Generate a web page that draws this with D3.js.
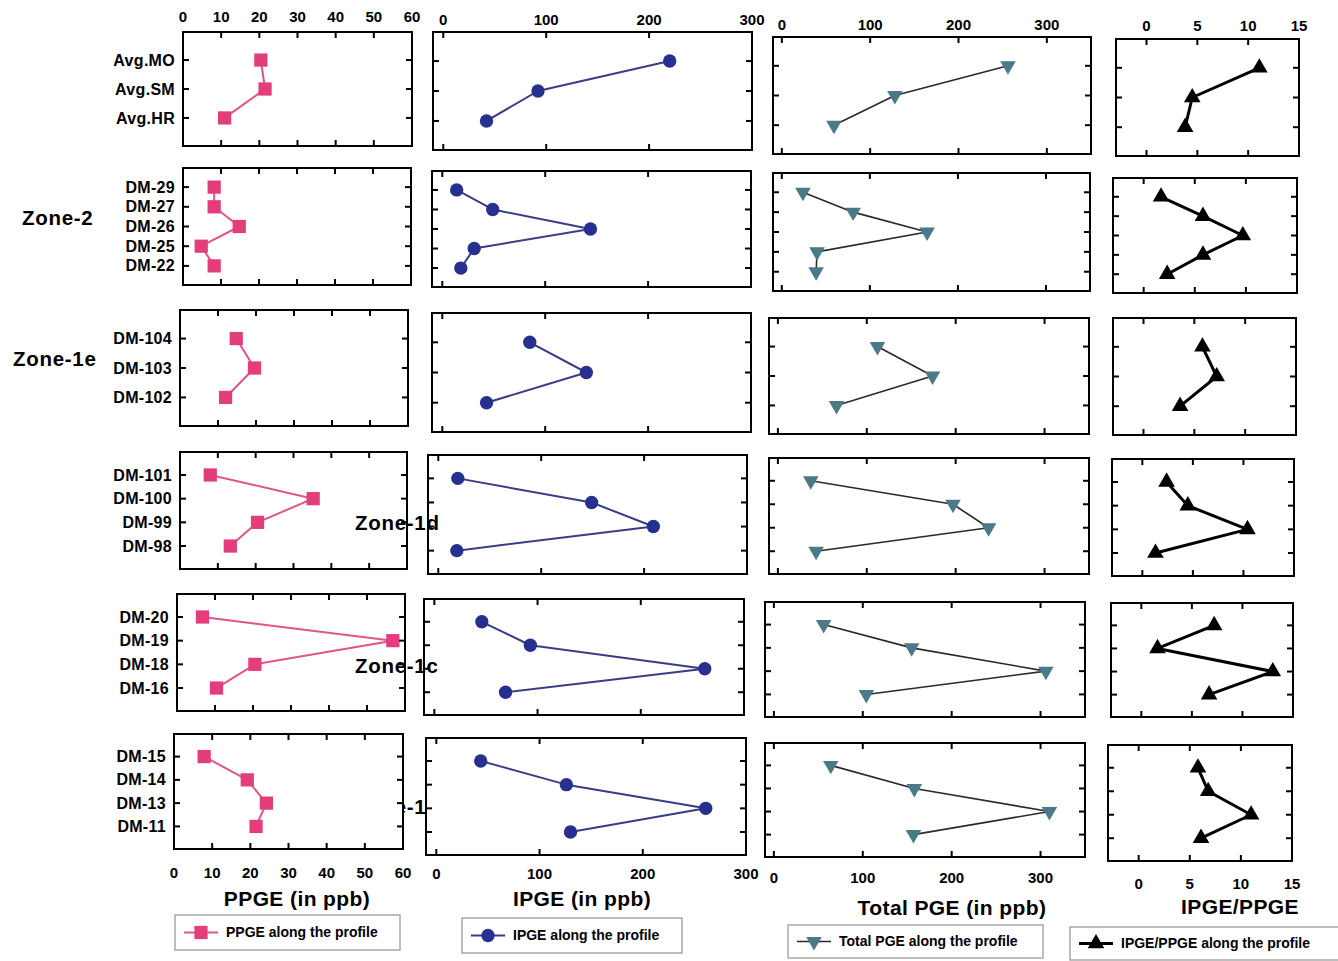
<!DOCTYPE html>
<html>
<head>
<meta charset="utf-8">
<script src="https://cdn.jsdelivr.net/npm/d3@7"></script>
<style>
  body { margin: 0; background: #fff; }
  svg { display: block; font-family: "Liberation Sans", Arial, Helvetica, sans-serif; font-weight: bold; }
</style>
</head>
<body>
<svg id="chart" width="1338" height="961"></svg>
<script>
// ---- samples, top to bottom, one list per zone ----
const zoneLabels = ["", "Zone-2", "Zone-1e", "Zone-1d", "Zone-1c", "Zone-1b"];
const samplesAvg = ["Avg.MO", "Avg.SM", "Avg.HR"];
const samplesZone2 = ["DM-29", "DM-27", "DM-26", "DM-25", "DM-22"];
const samplesZone1e = ["DM-104", "DM-103", "DM-102"];
const samplesZone1d = ["DM-101", "DM-100", "DM-99", "DM-98"];
const samplesZone1c = ["DM-20", "DM-19", "DM-18", "DM-16"];
const samplesZone1b = ["DM-15", "DM-14", "DM-13", "DM-11"];
const sampleGroups = [samplesAvg, samplesZone2, samplesZone1e, samplesZone1d, samplesZone1c, samplesZone1b];

// ---- concentrations (ppb) and ratio, same order as the sample lists ----
const ppgeValues = [
  [20.4, 21.5, 10.9],
  [8.2, 8.2, 14.8, 4.8, 8.2],
  [14.8, 19.6, 12.0],
  [8.0, 35.2, 20.5, 13.3],
  [6.7, 56.8, 20.5, 10.4],
  [7.9, 19.2, 24.2, 21.5]
];
const ipgeValues = [
  [220, 92, 42],
  [14, 49, 144, 31, 18],
  [85, 140, 43],
  [19, 149, 209, 18],
  [46, 93, 262, 69],
  [43, 126, 261, 130]
];
const totalPgeValues = [
  [256, 128, 59],
  [24, 81, 165, 40, 39],
  [112, 174, 66],
  [37, 197, 237, 43],
  [56, 155, 306, 104],
  [64, 158, 310, 157]
];
const ratioValues = [
  [11.1, 4.5, 3.8],
  [1.7, 5.8, 9.7, 5.8, 2.3],
  [5.8, 7.2, 3.6],
  [2.4, 4.5, 10.4, 1.3],
  [7.2, 1.6, 13.0, 6.7],
  [5.8, 6.8, 11.0, 6.1]
];

// ---- axis ticks ----
const ppgeTicks = [0, 10, 20, 30, 40, 50, 60];
const ipgeTicks = [0, 100, 200, 300];
const totalTicks = [0, 100, 200, 300];
const ratioTicks = [0, 5, 10, 15];

// ---- titles and legend entries ----
const axisTitles = ["PPGE (in ppb)", "IPGE (in ppb)", "Total PGE (in ppb)", "IPGE/PPGE"];
const legendLabels = ["PPGE along the profile", "IPGE along the profile", "Total PGE along the profile", "IPGE/PPGE along the profile"];

// ---- page layout: panel frames [left, top, right, bottom] per column, per row ----
const panelFrames = [
  [[183, 32, 412, 146], [183, 168, 411, 285], [180, 310, 408, 426], [180, 452, 407, 569], [177, 594, 405, 711], [174, 734, 403, 849]],
  [[433, 32, 752, 150], [432, 171, 751, 287], [432, 313, 751, 432], [428, 455, 747, 574], [424, 599, 744, 715], [426, 738, 746, 855]],
  [[773, 37, 1091, 154], [773, 173, 1090, 291], [769, 318, 1089, 434], [769, 458, 1089, 574], [765, 602, 1085, 717], [765, 743, 1085, 857]],
  [[1116, 39, 1299, 156], [1113, 178, 1297, 293], [1113, 318, 1296, 435], [1112, 459, 1294, 576], [1111, 603, 1293, 717], [1108, 745, 1292, 861]]
];

const columns = [
  { values: ppgeValues, ticks: ppgeTicks, domain: [0, 60], symbol: d3.symbolSquare, size: 175, rotate: 0,
    fill: "#e33d7b", line: "#e0558a", lineWidth: 2, topLabelGap: 10, bottomLabelGap: 29,
    title: { x: 297, y: 906 }, legend: { x: 175, y: 915, w: 225, h: 35 } },
  { values: ipgeValues, ticks: ipgeTicks, domain: [-10, 300], symbol: d3.symbolCircle, size: 140, rotate: 0,
    fill: "#27308f", line: "#3a3d85", lineWidth: 2, topLabelGap: 7.5, bottomLabelGap: 23.5,
    title: { x: 582, y: 906 }, legend: { x: 462, y: 918, w: 220, h: 35 } },
  { values: totalPgeValues, ticks: totalTicks, domain: [-10, 350], symbol: d3.symbolTriangle, size: 105, rotate: 180,
    fill: "#4a7988", line: "#2a2a2a", lineWidth: 1.6, topLabelGap: 7.5, bottomLabelGap: 25.5,
    title: { x: 952, y: 915 }, legend: { x: 788, y: 925, w: 255, h: 33 } },
  { values: ratioValues, ticks: ratioTicks, domain: [-3, 15], symbol: d3.symbolTriangle, size: 120, rotate: 0,
    fill: "#000", line: "#000", lineWidth: 3, topLabelGap: 8.5, bottomLabelGap: 27.5,
    title: { x: 1240, y: 914 }, legend: { x: 1070, y: 927, w: 275, h: 33 } }
];

const svg = d3.select("#chart");
const tickLen = 6;

// zone-1b label sits beneath the panels, only its middle shows between them
svg.append("text").attr("x", 355).attr("y", 814)
  .attr("font-size", 20.5).attr("letter-spacing", 0.7).text(zoneLabels[5]);

// white panel backgrounds
columns.forEach((col, ci) => {
  panelFrames[ci].forEach(f => {
    svg.append("rect").attr("x", f[0]).attr("y", f[1])
      .attr("width", f[2] - f[0]).attr("height", f[3] - f[1]).attr("fill", "#fff");
  });
});

// zone labels
const zonePositions = [null, [22, 225], [13, 366], [355, 530], [355, 673], null];
zoneLabels.forEach((z, i) => {
  if (!zonePositions[i]) return;
  svg.append("text").attr("x", zonePositions[i][0]).attr("y", zonePositions[i][1])
    .attr("font-size", 20.5).attr("letter-spacing", 0.7).text(z);
});

columns.forEach((col, ci) => {
  panelFrames[ci].forEach((f, ri) => {
    const [l, t, r, b] = f;
    const samples = sampleGroups[ri];
    const x = d3.scaleLinear().domain(col.domain).range([l, r]);
    const y = d3.scalePoint().domain(samples).range([t, b]).padding(0.97);
    const g = svg.append("g");

    // data line and markers
    const pts = samples.map((s, i) => ({ s, v: col.values[ri][i] }));
    g.append("path").datum(pts)
      .attr("d", d3.line().x(d => x(d.v)).y(d => y(d.s)))
      .attr("fill", "none").attr("stroke", col.line).attr("stroke-width", col.lineWidth)
      .attr("stroke-linejoin", "round");
    g.selectAll(".m").data(pts).join("path")
      .attr("d", d3.symbol().type(col.symbol).size(col.size))
      .attr("transform", d => `translate(${x(d.v)},${y(d.s)}) rotate(${col.rotate})`)
      .attr("fill", col.fill);

    // inward ticks on all four sides
    const xt = col.ticks.filter(v => x(v) > l + 1 && x(v) < r - 1);
    xt.forEach(v => {
      g.append("line").attr("x1", x(v)).attr("x2", x(v)).attr("y1", t).attr("y2", t + tickLen)
        .attr("stroke", "#000").attr("stroke-width", 2);
      g.append("line").attr("x1", x(v)).attr("x2", x(v)).attr("y1", b).attr("y2", b - tickLen)
        .attr("stroke", "#000").attr("stroke-width", 2);
    });
    samples.forEach(s => {
      g.append("line").attr("x1", l).attr("x2", l + tickLen).attr("y1", y(s)).attr("y2", y(s))
        .attr("stroke", "#000").attr("stroke-width", 2);
      g.append("line").attr("x1", r).attr("x2", r - tickLen).attr("y1", y(s)).attr("y2", y(s))
        .attr("stroke", "#000").attr("stroke-width", 2);
    });

    // frame
    g.append("rect").attr("x", l).attr("y", t).attr("width", r - l).attr("height", b - t)
      .attr("fill", "none").attr("stroke", "#000").attr("stroke-width", 2);

    // sample names left of the first column
    if (ci === 0) {
      g.selectAll(".cat").data(samples).join("text")
        .attr("x", l - 8).attr("y", d => y(d)).attr("dy", "0.35em")
        .attr("text-anchor", "end").attr("font-size", 16).attr("letter-spacing", 0.3)
        .text(d => d);
    }

    // tick labels above the first row and below the last row
    if (ri === 0 || ri === panelFrames[ci].length - 1) {
      const ly = ri === 0 ? t - col.topLabelGap : b + col.bottomLabelGap;
      g.selectAll(".tl").data(col.ticks).join("text")
        .attr("x", d => x(d)).attr("y", ly)
        .attr("text-anchor", "middle").attr("font-size", 15)
        .text(d => d);
    }
  });

  // axis title
  svg.append("text").attr("x", col.title.x).attr("y", col.title.y)
    .attr("text-anchor", "middle").attr("font-size", 21).attr("letter-spacing", 0.4)
    .text(axisTitles[ci]);

  // legend
  const lg = col.legend;
  const leg = svg.append("g");
  leg.append("rect").attr("x", lg.x).attr("y", lg.y).attr("width", lg.w).attr("height", lg.h)
    .attr("fill", "#fff").attr("stroke", "#a8a8a8").attr("stroke-width", 1.5);
  const cy = lg.y + lg.h / 2;
  leg.append("line").attr("x1", lg.x + 9).attr("x2", lg.x + 43).attr("y1", cy).attr("y2", cy)
    .attr("stroke", col.line).attr("stroke-width", col.lineWidth);
  leg.append("path").attr("d", d3.symbol().type(col.symbol).size(col.size))
    .attr("transform", `translate(${lg.x + 26},${cy}) rotate(${col.rotate})`)
    .attr("fill", col.fill);
  leg.append("text").attr("x", lg.x + 51).attr("y", cy).attr("dy", "0.35em")
    .attr("font-size", 14).text(legendLabels[ci]);
});
</script>
</body>
</html>
